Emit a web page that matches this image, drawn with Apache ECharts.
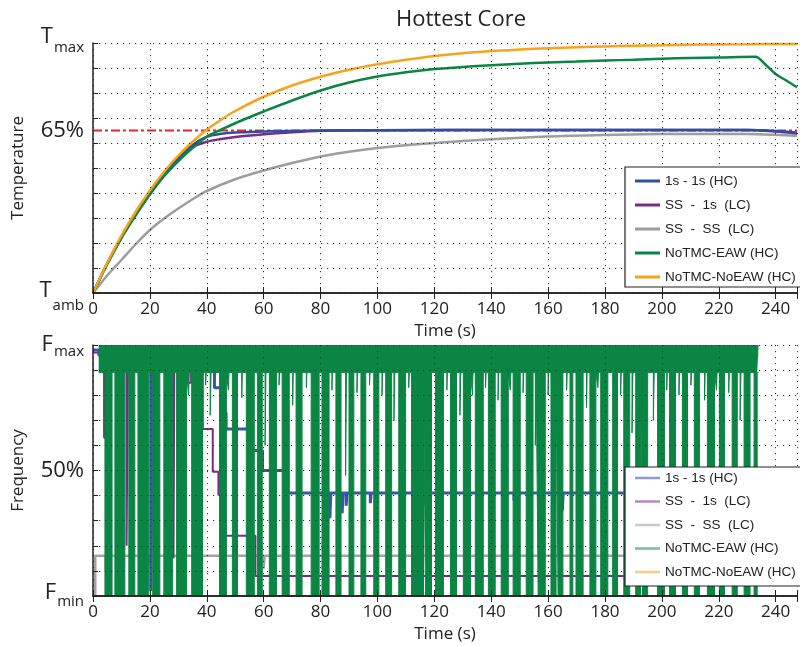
<!DOCTYPE html>
<html>
<head>
<meta charset="utf-8">
<script src="https://cdn.jsdelivr.net/npm/echarts@6/dist/echarts.min.js"></script>
<style>
html,body{margin:0;padding:0;background:#fff}
#chart{width:800px;height:646px}
</style>
</head>
<body>
<div id="chart"></div>
<script>
// series names (shared by both panels)
const names = ['1s - 1s (HC)', 'SS  -  1s  (LC)', 'SS  -  SS  (LC)', 'NoTMC-EAW (HC)', 'NoTMC-NoEAW (HC)'];
const colors = ['#2f4fa3', '#7a2a88', '#9d9d9d', '#0b8543', '#f8a31c'];
const timeTicks = [0, 20, 40, 60, 80, 100, 120, 140, 160, 180, 200, 220, 240];
const xMax = 247.5;

// --- top panel: temperature (% between T_amb and T_max) ---
const tempTime = [0, 5, 10, 15, 20, 25, 30, 35, 40, 45, 50, 60, 70, 80, 90, 100, 110, 120, 130, 140, 150, 160, 170, 180, 190, 200, 210, 220, 230, 240, 247.5];
const orangeTemp = [0, 12, 23, 32.5, 41, 48.5, 55, 60.5, 65.3, 69.3, 72.8, 78.5, 83, 86.5, 89.3, 91.5, 93.3, 94.8, 95.9, 96.8, 97.4, 97.9, 98.3, 98.6, 98.9, 99.1, 99.3, 99.4, 99.5, 99.6, 99.6];

const greenTime = [0, 5, 10, 15, 20, 25, 30, 35, 40, 45, 50, 55, 60, 70, 80, 90, 100, 110, 120, 130, 140, 150, 160, 170, 180, 190, 200, 210, 220, 233, 236, 240, 244, 247.5];
const greenTemp = [0, 11.5, 22, 31, 39.5, 46.8, 52.8, 58, 62.5, 65.3, 67.9, 70.3, 72.6, 77, 81, 84.2, 86.6, 88.3, 89.6, 90.4, 91.1, 91.7, 92.2, 92.6, 93, 93.3, 93.7, 94, 94.2, 94.5, 91.8, 87.6, 84.8, 82.3];

const hcTime = [0, 5, 10, 15, 20, 25, 30, 35, 40, 45, 50, 57.5, 70, 80, 100, 150, 200, 230, 240, 247.5];
const blueTemp = [0, 11.8, 22.3, 31.5, 39.8, 47.5, 54, 59.2, 62.5, 63.7, 64.2, 64.5, 64.8, 65, 65.1, 65.2, 65.2, 65.2, 64.8, 64.2];
const purpleTemp = [0, 11.8, 22.3, 31.5, 39.5, 47, 53.3, 58.3, 60.5, 61.6, 62.4, 63.2, 64.3, 64.9, 65.1, 65.2, 65.2, 65.2, 64.6, 63.8];

const grayTime = [0, 5, 10, 15, 20, 25, 30, 35, 40, 50, 60, 70, 80, 90, 100, 110, 120, 140, 160, 180, 200, 230, 240, 247.5];
const grayTemp = [0, 7, 13.2, 19.5, 25.2, 29.8, 33.8, 37.5, 40.8, 45.5, 49, 52, 54.6, 56.5, 58, 59.1, 60, 61.5, 62.6, 63.2, 63.6, 63.6, 63.3, 62.9];

const threshold = 65;

// --- bottom panel: frequency (% between F_min and F_max), step points [t, value] ---
const blueFreq = [[0, 98], [2, 96], [20.3, 2], [21, 96], [42.7, 83], [45.5, 73], [46.8, 66.5], [55.8, 58], [59.6, 50], [68.5, 41],
  [83.3, 31], [83.6, 41], [87.6, 33], [87.9, 41], [89, 36], [89.3, 41], [97.5, 37], [97.8, 41], [117, 36], [117.3, 41],
  [140, 35], [140.3, 41], [148, 38], [148.3, 41], [165, 34], [165.3, 41], [234, 41]];
const purpleFreq = [[0, 97], [3.9, 63], [5, 96], [11.8, 20], [12.3, 96], [26.3, 45], [26.6, 96], [28.3, 15], [28.6, 96],
  [33.5, 85], [34.5, 96], [38.6, 66.5], [42.1, 49.5], [44.1, 40], [44.5, 49.5], [46.2, 33], [46.8, 24], [57.1, 8], [234, 8]];
const grayFreq = [[0, 0], [0.8, 16], [4.5, 10], [4.8, 16], [20, 12], [20.3, 16], [60, 11], [60.3, 16], [118, 12], [118.3, 16], [234, 16]];
const orangeFreq = [[2, 96], [234, 96]];

// NoTMC-EAW: fast toggling fills a band above ~89 %, with dips [start, end, lowest value]
const greenBand = 89;
const greenStart = 2;
const greenEnd = 234;
const greenDips = [
  [4.2, 6.7, 0], [7.7, 11.2, 0], [12.6, 14.7, 0], [15.8, 19.6, 0], [21.0, 23.5, 0], [24.9, 28.0, 0], [29.4, 32.9, 0],
  [33.6, 33.8, 80], [34.7, 38.5, 0], [39.6, 39.8, 84], [41.2, 41.5, 72], [44.5, 46.9, 0], [47.6, 47.8, 82], [49.0, 50.8, 0],
  [52.3, 52.5, 79], [53.9, 56.7, 0], [57.8, 59.5, 0], [60.5, 60.8, 60], [62.0, 64.5, 0], [65.4, 65.6, 84], [66.5, 69.0, 0],
  [70.2, 70.4, 76], [71.4, 73.5, 0], [75.0, 75.2, 83], [76.7, 79.5, 0], [80.5, 83.0, 0], [84.0, 84.2, 82], [85.4, 87.2, 0],
  [88.8, 89.1, 48], [90.0, 91.7, 0], [92.8, 93.0, 81], [94.2, 95.9, 0], [97.2, 97.4, 84], [98.7, 100.5, 0], [101.6, 101.8, 80],
  [102.9, 105.0, 0], [105.8, 106.1, 70], [107.5, 109.9, 0], [111.0, 111.2, 83], [112.0, 116.2, 0], [116.9, 119.0, 0],
  [120.4, 123.2, 0], [124.4, 124.6, 82], [125.7, 127.8, 0], [129.0, 129.3, 72], [130.2, 132.7, 0], [133.4, 133.6, 80],
  [134.4, 137.2, 0], [138.0, 138.2, 83], [139.0, 141.4, 0], [142.4, 142.6, 78], [143.5, 146.0, 0], [146.7, 146.9, 82],
  [147.7, 150.2, 0], [151.2, 151.4, 81], [152.3, 154.7, 0], [155.5, 155.8, 60], [156.5, 159.0, 0], [160.0, 160.2, 80],
  [161.0, 162.8, 0], [163.5, 165.2, 0], [166.5, 166.7, 82], [167.7, 168.7, 0], [169.8, 172.3, 0], [173.5, 173.7, 75],
  [174.7, 176.8, 0], [177.5, 177.7, 83], [178.5, 181.0, 0], [182.7, 184.4, 0], [185.5, 185.7, 80], [186.6, 188.7, 0],
  [189.5, 189.8, 65], [190.8, 192.5, 0], [193.2, 195.0, 0], [197.0, 197.3, 70], [198.5, 200.9, 0], [201.7, 201.9, 82],
  [202.7, 204.8, 0], [206.0, 206.2, 80], [207.2, 209.0, 0], [210.2, 210.4, 84], [211.4, 213.2, 0], [215.0, 215.2, 78],
  [216.0, 218.5, 0], [219.2, 219.4, 82], [220.2, 222.0, 0], [223.5, 223.7, 81], [224.7, 226.5, 0], [227.5, 227.8, 70],
  [228.9, 231.0, 0], [232.4, 233.5, 0]
];

const zip = (xs, ys) => xs.map((x, i) => [x, ys[i]]);

const greenFreq = [[greenStart, greenBand]];
greenDips.forEach(d => {
  greenFreq.push([d[0], greenBand], [d[0], d[2]], [d[1], d[2]], [d[1], greenBand]);
});
greenFreq.push([greenEnd, greenBand]);

const font = 'Open Sans';
const dotted = { color: '#333', width: 1, type: [1.2, 4.8] };
const axisZ = 12;

function xAxes(grid) {
  return [{
    gridIndex: grid, type: 'value', min: 0, max: xMax, interval: 20, z: axisZ,
    name: 'Time (s)', nameLocation: 'middle', nameGap: 30,
    nameTextStyle: { fontFamily: font, fontSize: 17, color: '#222' },
    axisLine: { lineStyle: { color: '#222', width: 1.5 } },
    axisTick: { inside: true, length: 6, lineStyle: { color: '#222' } },
    axisLabel: { margin: 8, fontFamily: font, fontSize: 17, color: '#222',
      formatter: v => (timeTicks.indexOf(v) >= 0 ? String(v) : '') },
    splitLine: { show: true, lineStyle: dotted }
  }, {
    gridIndex: grid, type: 'value', min: 0, max: xMax, interval: 20, position: 'top', z: axisZ,
    axisLine: { lineStyle: { color: '#222', width: 1.5 } },
    axisTick: { inside: true, length: 6, lineStyle: { color: '#222' } },
    axisLabel: { show: false }, splitLine: { show: false }
  }];
}

function yAxes(grid, name, fmt, rich) {
  return [{
    gridIndex: grid, type: 'value', min: 0, max: 100, interval: 10, position: 'left', z: axisZ,
    name: name, nameLocation: 'middle', nameGap: 66,
    nameTextStyle: { fontFamily: font, fontSize: 17, color: '#222' },
    axisLine: { show: true, lineStyle: { color: '#222', width: 1.5 } },
    axisTick: { inside: true, length: 5, lineStyle: { color: '#222' } },
    axisLabel: { show: false },
    splitLine: { show: true, lineStyle: dotted }
  }, {
    gridIndex: grid, type: 'value', min: 0, max: 100, interval: 5, position: 'left', z: axisZ,
    axisLine: { show: false }, axisTick: { show: false }, splitLine: { show: false },
    axisLabel: { margin: 9, fontFamily: font, color: '#222', formatter: fmt, rich: rich }
  }];
}

const richTop = {
  hi: { fontFamily: font, fontSize: 22, color: '#222', padding: [0, 0, 12, 0] },
  hiSub: { fontFamily: font, fontSize: 15, color: '#222', padding: [10, 0, 0, 1] },
  lo: { fontFamily: font, fontSize: 22, color: '#222', padding: [0, 0, 5, 0] },
  loSub: { fontFamily: font, fontSize: 15, color: '#222', padding: [26, 0, 0, 1] },
  p: { fontFamily: font, fontSize: 22, color: '#222' }
};
const richBottom = {
  hi: { fontFamily: font, fontSize: 22, color: '#222' },
  hiSub: { fontFamily: font, fontSize: 15, color: '#222', padding: [14, 0, 0, 1] },
  lo: { fontFamily: font, fontSize: 22, color: '#222', padding: [0, 0, 6, 0] },
  loSub: { fontFamily: font, fontSize: 15, color: '#222', padding: [12, 0, 0, 1] },
  p: { fontFamily: font, fontSize: 22, color: '#222' }
};

function lineSeries(name, color, data, xi, yi, width, extra) {
  return Object.assign({
    name: name, type: 'line', xAxisIndex: xi, yAxisIndex: yi, data: data,
    showSymbol: false, symbol: 'none', smooth: false,
    lineStyle: { color: color, width: width }, itemStyle: { color: color }
  }, extra || {});
}
const curve = { smooth: 0.3 };

const legendBase = {
  orient: 'vertical', left: 625, itemWidth: 25, itemHeight: 3, icon: 'rect', z: 20,
  backgroundColor: '#fff', borderColor: '#222', borderWidth: 1.2, borderRadius: 0,
  textStyle: { fontFamily: 'Liberation Sans', fontSize: 13.5, color: '#222' },
  selectedMode: false, data: names
};

const chart = echarts.init(document.getElementById('chart'), null, { renderer: 'canvas' });
chart.setOption({
  animation: false,
  backgroundColor: '#fff',
  title: {
    text: 'Hottest Core', left: 456, top: 4, textAlign: 'center',
    textStyle: { fontFamily: font, fontSize: 22, fontWeight: 'normal', color: '#222' }
  },
  legend: [
    Object.assign({}, legendBase, { top: 167, itemGap: 10, padding: [7, 60, 3, 10] }),
    Object.assign({}, legendBase, { top: 467, itemGap: 9.5, padding: [4, 60, 7, 10], itemHeight: 2.5,
      itemStyle: { opacity: 0.55 } })
  ],
  grid: [
    { left: 93, right: 0, top: 43, height: 250 },
    { left: 93, right: 0, top: 345, height: 251 }
  ],
  xAxis: xAxes(0).concat(xAxes(1)),
  yAxis: yAxes(0, 'Temperature',
      v => (v === 100 ? '{hi|T}{hiSub|max}' : v === 65 ? '{p|65%}' : v === 0 ? '{lo|T}{loSub|amb}' : ''), richTop)
    .concat(yAxes(1, 'Frequency',
      v => (v === 100 ? '{hi|F}{hiSub|max}' : v === 50 ? '{p|50%}' : v === 0 ? '{lo|F}{loSub|min}' : ''), richBottom)),
  series: [
    // top panel
    lineSeries('65%', '#e3262b', [[0, threshold], [xMax, threshold]], 0, 0, 2, { lineStyle: { color: '#e3262b', width: 2, type: [9, 3, 3, 3] } }),
    lineSeries(names[2], colors[2], zip(grayTime, grayTemp), 0, 0, 2.5, curve),
    lineSeries(names[1], colors[1], zip(hcTime, purpleTemp), 0, 0, 2.5, curve),
    lineSeries(names[0], colors[0], zip(hcTime, blueTemp), 0, 0, 2.5, curve),
    lineSeries(names[3], colors[3], zip(greenTime, greenTemp), 0, 0, 2.5, curve),
    lineSeries(names[4], colors[4], zip(tempTime, orangeTemp), 0, 0, 2.5, curve),
    // bottom panel (green toggling drawn above the others)
    lineSeries(names[4], colors[4], orangeFreq, 2, 2, 1.5, { z: 1 }),
    lineSeries(names[2], '#a3a3a3', grayFreq, 2, 2, 2.5, { step: 'end', z: 1 }),
    lineSeries(names[1], '#7a2a88', purpleFreq, 2, 2, 2, { step: 'end', z: 1 }),
    lineSeries(names[0], '#3b55a8', blueFreq, 2, 2, 3, { step: 'end', z: 1 }),
    lineSeries(names[3], colors[3], greenFreq, 2, 2, 1, { z: 10, areaStyle: { color: colors[3], opacity: 1, origin: 'end' } })
  ]
});
</script>
</body>
</html>
